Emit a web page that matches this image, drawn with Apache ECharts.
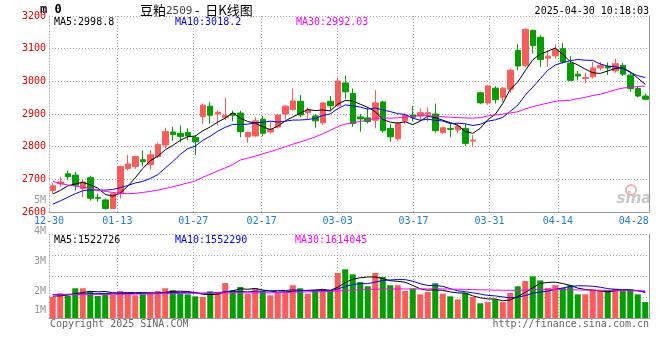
<!DOCTYPE html>
<html><head><meta charset="utf-8">
<script src="https://cdn.jsdelivr.net/npm/echarts@6/dist/echarts.min.js"></script>
<style>html,body{margin:0;padding:0;background:#fff}#c{width:660px;height:360px}</style>
</head><body><div id="c"></div>
<script>
const dates = ['12-30','12-31','01-02','01-03','01-06','01-07','01-08','01-09','01-10','01-13','01-14','01-15','01-16','01-17','01-20','01-21','01-22','01-23','01-24','01-27',
'02-05','02-06','02-07','02-10','02-11','02-12','02-13','02-14','02-17','02-18','02-19','02-20','02-21','02-24','02-25','02-26','02-27','02-28',
'03-03','03-04','03-05','03-06','03-07','03-10','03-11','03-12','03-13','03-14','03-17','03-18','03-19','03-20','03-21','03-24','03-25','03-26','03-27','03-28','03-31',
'04-01','04-02','04-03','04-07','04-08','04-09','04-10','04-11','04-14','04-15','04-16','04-17','04-18','04-21','04-22','04-23','04-24','04-25','04-28','04-29','04-30'];
const opens = [2666,2686,2717,2713,2672,2705,2644,2637,2611,2656,2733,2739,2760,2745,2770,2805,2845,2841,2843,2828,
2892,2924,2900,2890,2902,2903,2830,2833,2884,2845,2860,2900,2914,2939,2904,2894,2873,2939,2925,2995,
2963,2891,2888,2881,2937,2856,2824,2879,2897,2894,2900,2900,2843,2856,2851,2856,2817,2965,2934,2979,
2951,2976,3095,3049,3156,3135,3071,3078,3100,3056,3022,3009,3014,3041,3046,3032,3049,3019,2978,2955];
const closes = [2680,2692,2708,2682,2692,2642,2642,2611,2656,2739,2747,2770,2754,2775,2807,2846,2837,2831,2833,2815,
2927,2896,2905,2895,2896,2846,2843,2879,2841,2853,2897,2924,2940,2897,2912,2879,2934,2925,3001,2968,
2871,2885,2877,2934,2849,2830,2871,2897,2890,2904,2904,2849,2858,2853,2863,2810,2820,2934,2986,2944,
2979,3034,3047,3159,3110,3067,3077,3097,3059,3003,3016,3012,3041,3049,3041,3054,3022,2978,2955,2945];
const lows = [2656,2677,2697,2666,2646,2635,2631,2607,2610,2641,2727,2732,2739,2729,2765,2795,2818,2813,2820,2775,
2869,2871,2866,2881,2878,2829,2812,2830,2832,2840,2856,2883,2910,2890,2885,2858,2866,2910,2922,2945,
2861,2846,2871,2856,2843,2815,2818,2869,2878,2882,2876,2843,2839,2829,2841,2802,2800,2930,2928,2932,
2937,2965,3034,3044,3085,3044,3044,3070,3054,3002,3003,2994,3009,3033,3019,3026,3016,2968,2951,2942];
const highs = [2688,2707,2727,2723,2698,2711,2656,2641,2658,2742,2775,2771,2788,2790,2812,2858,2861,2865,2856,2835,
2932,2937,2912,2950,2910,2910,2846,2890,2894,2875,2900,2927,2978,2958,2920,2900,2937,2955,3011,3018,
2978,2900,2920,2973,2941,2869,2876,2902,2925,2917,2920,2932,2861,2872,2871,2869,2836,2968,2989,2985,
2983,3039,3113,3163,3158,3141,3095,3113,3118,3077,3032,3027,3059,3059,3058,3069,3056,3026,2983,2963];
const ma5 = [2655,2666,2680,2686,2690.8,2683.2,2673.2,2653.8,2648.6,2658,2679,2704.6,2733.2,2757,2770.6,2790.4,2803.8,2819.2,2830.8,2832.4,
2848.6,2860.4,2875.2,2887.6,2903.8,2887.6,2877,2871.8,2861,2852.4,2862.6,2878.8,2891,2902.2,2914,2910.4,2912.4,2909.4,2930.2,2941.4,
2939.8,2930,2920.4,2907,2883.2,2875,2872.2,2876.2,2867.4,2878.4,2893.2,2888.8,2881,2873.6,2865.4,2846.6,2840.8,2856,2882.6,2898.8,
2932.6,2975.4,2998,3032.6,3065.8,3083.4,3092,3102,3082,3060.6,3050.4,3037.4,3026.2,3024.2,3031.8,3039.4,3041.4,3028.8,3010,2990.8];
const ma10 = [2624,2634,2645,2656,2665,2668,2667,2667,2669,2674.4,2681.1,2688.9,2693.5,2702.8,2714.3,2734.7,2754.2,2776.2,2793.9,2801.5,
2819.5,2832.1,2847.2,2859.2,2868.1,2868.1,2868.7,2873.5,2874.3,2878.1,2875.1,2877.9,2881.4,2881.6,2883.2,2886.5,2895.6,2900.2,2916.2,2927.7,
2925.1,2921.2,2914.9,2918.6,2912.3,2907.4,2901.1,2898.3,2887.2,2880.8,2884.1,2880.5,2878.6,2870.5,2871.9,2869.9,2864.8,2868.5,2878.1,2882.1,
2889.6,2908.1,2927,2957.6,2982.3,3008,3033.7,3050,3057.3,3063.2,3066.9,3064.7,3064.1,3053.1,3046.2,3044.9,3039.4,3027.5,3017.1,3011.3];
const ma30 = [2694,2687,2683,2679,2676,2672,2667,2663,2660,2657,2656,2657,2660,2663,2667,2672,2677,2683,2689,2695,
2706,2716,2726,2735,2745,2759,2765,2771,2778,2784.7,2791.9,2799.6,2807.4,2814.5,2821.9,2829.8,2839.5,2850,2861.5,2869.1,
2873.2,2877.1,2881.2,2886.5,2887.9,2887.3,2888.5,2890.7,2892.6,2895.5,2894.8,2893.2,2891.6,2890.2,2889.1,2887.9,2887.2,2889,2893.8,2896.9,
2899.6,2903.3,2906.8,2915.6,2922.2,2928.4,2933.2,2938.9,2940.9,2942,2946.9,2951.1,2956.6,2960.4,2966.8,2974.3,2979.3,2982,2984.2,2985.5];
const volumes = [1250000,1470000,1310000,1770000,1770000,1610000,1310000,1450000,1370000,1610000,
1550000,1350000,1410000,1490000,1610000,1770000,1650000,1450000,1410000,1290000,
1250000,1590000,1530000,2080000,1650000,1850000,1450000,1770000,1610000,1350000,
1530000,1530000,1950000,1770000,1450000,1650000,1710000,1650000,2680000,2900000,
2600000,2140000,1890000,2680000,2440000,1950000,1950000,1610000,1750000,1410000,
1550000,2070000,1450000,1290000,1110000,1490000,1250000,875000,950000,1110000,
950000,1490000,1890000,2200000,2480000,2240000,1790000,1950000,1790000,1950000,
1410000,1410000,1690000,1610000,1650000,1750000,1650000,1690000,1410000,950000];
const volMa5 = [1300000,1320000,1360000,1450000,1514000,1586000,1554000,1582000,1502000,1470000,1458000,1466000,1458000,1482000,1482000,1526000,1586000,1594000,1578000,1514000,
1410000,1398000,1414000,1548000,1620000,1740000,1712000,1760000,1666000,1606000,1542000,1558000,1594000,1626000,1646000,1670000,1706000,1646000,1828000,2118000,
2308000,2394000,2442000,2442000,2350000,2220000,2182000,2126000,1940000,1734000,1654000,1678000,1646000,1554000,1494000,1482000,1318000,1203000,1135000,1135000,
1027000,1075000,1278000,1528000,1802000,2060000,2120000,2132000,2050000,1944000,1778000,1702000,1650000,1614000,1554000,1622000,1670000,1670000,1630000,1522726];
const volMa10 = [1400000,1400000,1410000,1420000,1430000,1440000,1450000,1460000,1470000,1492000,1522000,1510000,1520000,1492000,1476000,1492000,1526000,1526000,1530000,1498000,
1468000,1492000,1504000,1563000,1567000,1575000,1555000,1587000,1607000,1613000,1641000,1635000,1677000,1646000,1626000,1606000,1632000,1620000,1727000,1882000,
1989000,2050000,2044000,2135000,2234000,2264000,2288000,2284000,2191000,2042000,1937000,1930000,1886000,1747000,1614000,1568000,1498000,1425000,1345000,1315000,
1255000,1197000,1241000,1332000,1469000,1544000,1598000,1705000,1789000,1873000,1919000,1911000,1891000,1832000,1749000,1700000,1686000,1660000,1622000,1552290];
const volMa30 = [1380000,1380000,1380000,1390000,1390000,1400000,1400000,1400000,1410000,1410000,1420000,1420000,1430000,1430000,1440000,1450000,1450000,1460000,1470000,1470000,
1480000,1490000,1490000,1500000,1500000,1500000,1500000,1500000,1500000,1500000,1510000,1520000,1540000,1550000,1550000,1560000,1570000,1580000,1610000,1640000,
1660000,1680000,1690000,1710000,1720000,1720000,1730000,1730000,1730000,1730000,1730000,1740000,1730000,1720000,1710000,1700000,1690000,1680000,1670000,1660000,
1650000,1650000,1650000,1660000,1680000,1690000,1690000,1700000,1690000,1680000,1670000,1660000,1660000,1650000,1640000,1630000,1630000,1620000,1620000,1614045];
const labelIdx = [0,9,19,28,38,48,58,67,77];
const gridIdx = [9,19,28,38,48,58,67];
const volTickLabels = ['5M','4M','3M','2M','1M'];
const volTickY = [200,231,261,291,310];

const RED = '#ff5a5a', GREEN = '#00a000';
const MONO = '"DejaVu Sans Mono", "Liberation Mono", monospace';
const candleData = opens.map((o, i) => [o, closes[i], lows[i], highs[i]]);
const volData = volumes.map((v, i) => ({value: v, itemStyle: {color: closes[i] >= opens[i] ? RED : GREEN}}));

const dotted = {color: '#aaa', type: [1, 2], width: 1};
function txt(x, y, text, color, font, align, extra) {
  return Object.assign({type: 'text', x: x, y: y, silent: true,
    style: {text: text, fill: color, font: font, align: align || 'left', textAlign: align || 'left', verticalAlign: 'middle', textVerticalAlign: 'middle'}}, extra || {});
}

const chart = echarts.init(document.getElementById('c'), null, {renderer: 'canvas'});
const graphics = [
  txt(40, 10, 'm 0', '#000', 'bold 12px ' + MONO),
  txt(140, 10, '豆粕', '#000', '13px "Noto Sans CJK SC"'),
  txt(166, 11, '2509', '#444', '11px ' + MONO),
  txt(195, 10, '-  日K线图', '#000', '13px "Noto Sans CJK SC"'),
  txt(649, 11, '2025-04-30 10:18:03', '#000', '10px ' + MONO, 'right'),
  txt(54, 22, 'MA5:2998.8', '#000', '10px ' + MONO),
  txt(175, 22, 'MA10:3018.2', '#0000ff', '10px ' + MONO),
  txt(296, 22, 'MA30:2992.03', '#ff00ff', '10px ' + MONO),
  txt(54, 240, 'MA5:1522726', '#000', '10px ' + MONO),
  txt(175, 240, 'MA10:1552290', '#0000ff', '10px ' + MONO),
  txt(295, 240, 'MA30:1614045', '#ff00ff', '10px ' + MONO),
  txt(50, 324, 'Copyright 2025 SINA.COM', '#666', '10px ' + MONO),
  txt(649, 324, 'http://finance.sina.com.cn', '#666', '10px ' + MONO, 'right'),
  txt(634, 199, 'sina', '#c8c8c8', 'italic bold 15px "DejaVu Sans"', 'center'),
  {type: 'circle', shape: {cx: 631, cy: 190, r: 5}, style: {fill: 'none', stroke: '#f4b0b0', lineWidth: 2}, silent: true}
];
volTickLabels.forEach((t, k) => graphics.push(txt(46, volTickY[k], t, '#999', '10px ' + MONO, 'right')));

chart.setOption({
  animation: false,
  backgroundColor: '#fff',
  grid: [
    {left: 49, width: 600, top: 16, height: 196},
    {left: 49, width: 600, top: 234, height: 84}
  ],
  xAxis: [
    {type: 'category', gridIndex: 0, data: dates, boundaryGap: true, show: false},
    {type: 'category', gridIndex: 0, data: dates, boundaryGap: false, position: 'bottom',
      axisLine: {show: true, lineStyle: {color: '#999'}}, axisTick: {show: false},
      axisLabel: {interval: 0, hideOverlap: false, formatter: (v, i) => labelIdx.includes(i) ? v : '',
        color: '#1a80d0', fontFamily: MONO, fontSize: 10, margin: 4},
      splitLine: {show: true, interval: (i) => gridIdx.includes(i), lineStyle: dotted}},
    {type: 'category', gridIndex: 1, data: dates, boundaryGap: true, show: false},
    {type: 'category', gridIndex: 1, data: dates, boundaryGap: false, position: 'bottom',
      axisLine: {show: true, lineStyle: {color: '#999'}}, axisTick: {show: false}, axisLabel: {show: false},
      splitLine: {show: true, interval: (i) => gridIdx.includes(i), lineStyle: dotted}}
  ],
  yAxis: [
    {type: 'value', gridIndex: 0, min: 2600, max: 3200, interval: 100, position: 'left',
      axisLine: {show: true, lineStyle: dotted}, axisTick: {show: false},
      axisLabel: {color: '#e00000', fontFamily: MONO, fontSize: 10, margin: 3, formatter: (v) => String(v)},
      splitLine: {show: true, lineStyle: dotted}},
    {type: 'value', gridIndex: 1, min: 0, max: 5000000, interval: 1250000, position: 'left',
      axisLine: {show: true, lineStyle: dotted}, axisTick: {show: false}, axisLabel: {show: false},
      splitLine: {show: true, lineStyle: dotted}},
    {type: 'value', gridIndex: 0, min: 2600, max: 3200, position: 'right',
      axisLine: {show: true, lineStyle: {color: '#999'}}, axisTick: {show: false}, axisLabel: {show: false}, splitLine: {show: false}},
    {type: 'value', gridIndex: 1, min: 0, max: 5000000, position: 'right',
      axisLine: {show: true, lineStyle: {color: '#999'}}, axisTick: {show: false}, axisLabel: {show: false}, splitLine: {show: false}}
  ],
  series: [
    {type: 'candlestick', xAxisIndex: 0, yAxisIndex: 0, data: candleData, barWidth: 6,
      itemStyle: {color: RED, color0: GREEN, borderColor: RED, borderColor0: GREEN, borderWidth: 1}},
    {type: 'line', xAxisIndex: 0, yAxisIndex: 0, data: ma5, symbol: 'none', lineStyle: {color: '#000', width: 1}},
    {type: 'line', xAxisIndex: 0, yAxisIndex: 0, data: ma10, symbol: 'none', lineStyle: {color: '#0000ff', width: 1}},
    {type: 'line', xAxisIndex: 0, yAxisIndex: 0, data: ma30, symbol: 'none', lineStyle: {color: '#ff00ff', width: 1}},
    {type: 'bar', xAxisIndex: 2, yAxisIndex: 1, data: volData, barWidth: 6},
    {type: 'line', xAxisIndex: 2, yAxisIndex: 1, data: volMa5, symbol: 'none', lineStyle: {color: '#000', width: 1}},
    {type: 'line', xAxisIndex: 2, yAxisIndex: 1, data: volMa10, symbol: 'none', lineStyle: {color: '#0000ff', width: 1}},
    {type: 'line', xAxisIndex: 2, yAxisIndex: 1, data: volMa30, symbol: 'none', lineStyle: {color: '#ff00ff', width: 1}}
  ],
  graphic: graphics
});
</script></body></html>
